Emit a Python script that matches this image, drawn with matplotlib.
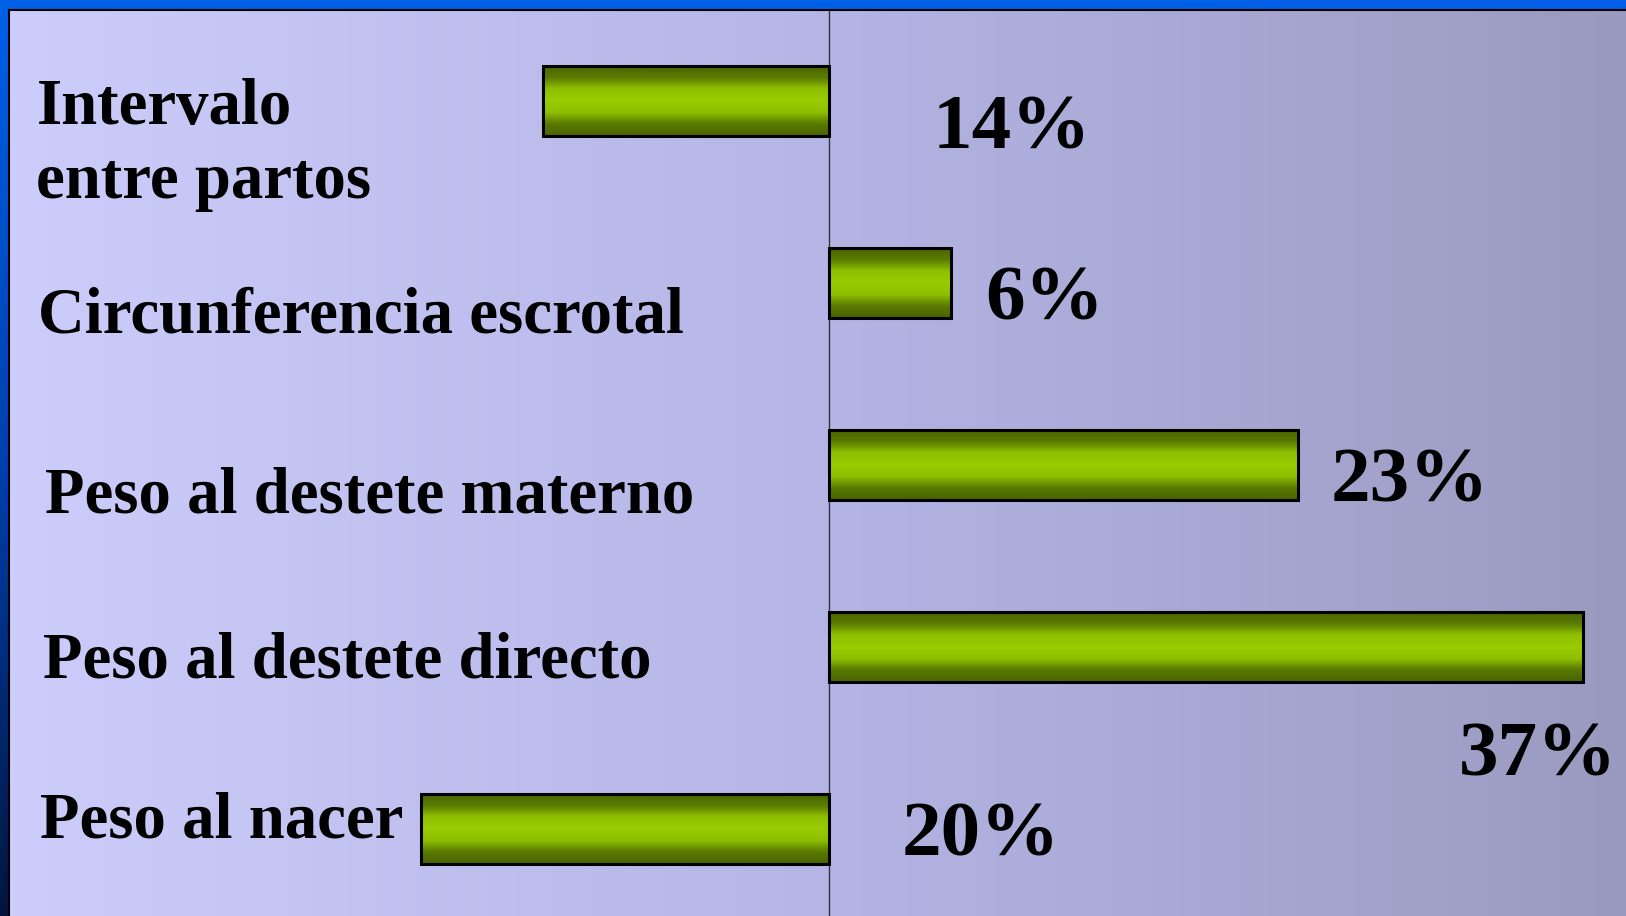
import numpy as np
import matplotlib.pyplot as plt
from matplotlib.colors import LinearSegmentedColormap

# data (negative = bar drawn to the left of the axis)
categorias = ["Intervalo\nentre partos", "Circunferencia escrotal",
              "Peso al destete materno", "Peso al destete directo",
              "Peso al nacer"]
valores = [-14, 6, 23, 37, -20]
etiquetas = ["14%", "6%", "23%", "37%", "20%"]

# label placement (data coords), picked by eye from the slide
pos_etiq = [(5.1, 0.26), (7.7, 1.2), (24.6, 2.2), (30.9, 3.71), (3.6, 4.15)]
pos_cat = [0.535, 1.27, 2.26, 3.17, 4.05]
x_cat = [0.017, 0.018, 0.022, 0.021, 0.019]

W, H = 1626, 916
fig = plt.figure(figsize=(W / 100, H / 100), dpi=100)

# blue slide frame behind everything
bg = fig.add_axes([0, 0, 1, 1])
bg.axis("off")
yy = np.linspace(0, 1, 256).reshape(-1, 1)
blue = LinearSegmentedColormap.from_list("blue", ["#00153d", "#0040b0", "#0060e8"])
bg.imshow(yy, cmap=blue, aspect="auto", extent=[0, 1, 0, 1], origin="lower")
bg.set_xlim(0, 1)
bg.set_ylim(0, 1)

ax = fig.add_axes([9 / W, 0, (W - 9) / W, (H - 10) / H])
xmin, xmax = -40.2, 39.1
ymin, ymax = 4.48, -0.5

lav = LinearSegmentedColormap.from_list("lav", ["#cdcdfb", "#b5b5e6", "#9a9ac0"])
xx = np.linspace(0, 1, 256).reshape(1, -1)
ax.imshow(xx, cmap=lav, aspect="auto", extent=[xmin, xmax, ymin, ymax], zorder=0)

green = LinearSegmentedColormap.from_list(
    "green", ["#4a6400", "#5a7a00", "#8fc000", "#99cc00", "#8fc000", "#5a7a00", "#4a6400"])
grad = np.linspace(0, 1, 64).reshape(-1, 1)

ypos = np.arange(len(categorias))
bars = ax.barh(ypos, valores, height=0.385, facecolor="none",
               edgecolor="black", linewidth=2.2, zorder=3)
for b in bars:
    x0, y0, w, h = b.get_x(), b.get_y(), b.get_width(), b.get_height()
    ax.imshow(grad, cmap=green, aspect="auto",
              extent=[x0, x0 + w, y0 + h, y0], zorder=2)

ax.axvline(0, color="#333344", linewidth=1, zorder=1)

for (x, y), t in zip(pos_etiq, etiquetas):
    ax.text(x, y, t, fontsize=57, fontweight="bold", family="Liberation Serif",
            va="baseline", ha="left", zorder=4)

for xc, y, c in zip(x_cat, pos_cat, categorias):
    ax.text(xc, y, c, fontsize=46.6, fontweight="bold", family="Liberation Serif",
            va="baseline", ha="left", linespacing=1.32,
            transform=ax.get_yaxis_transform(), zorder=4)

ax.set_xlim(xmin, xmax)
ax.set_ylim(ymin, ymax)
ax.set_xticks([])
ax.set_yticks([])
for s in ["right", "bottom"]:
    ax.spines[s].set_visible(False)
ax.spines["top"].set_linewidth(1.5)
ax.spines["left"].set_linewidth(1.5)

fig.savefig("out.png", dpi=100)
